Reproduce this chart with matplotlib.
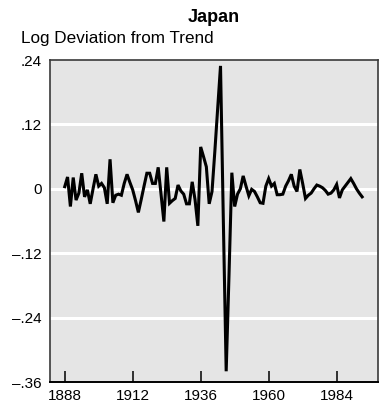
import matplotlib
matplotlib.use("Agg")
import matplotlib.pyplot as plt
import numpy as np

plt.rcParams['font.family'] = ['Liberation Sans', 'DejaVu Sans']

years = list(range(1888, 1994))
deviation = [
    0.004, 0.022, -0.033, 0.021, -0.021, -0.008, 0.029, -0.015, -0.002, -0.028,  # 1888-1897
    0.000, 0.027, 0.005, 0.010, 0.002, -0.028, 0.055, -0.026, -0.012, -0.010,   # 1898-1907
    -0.012, 0.010, 0.027, 0.012, -0.002, -0.022, -0.044, -0.020, 0.005, 0.029,   # 1908-1917
    0.029, 0.010, 0.010, 0.040, -0.010, -0.061, 0.040, -0.027, -0.022, -0.018,   # 1918-1927
    0.007, -0.004, -0.010, -0.028, -0.028, 0.013, -0.020, -0.069, 0.078, 0.060,  # 1928-1937
    0.041, -0.028, -0.005, 0.070, 0.150, 0.229, -0.060, -0.340, -0.160, 0.030,   # 1938-1947
    -0.033, -0.010, 0.000, 0.024, 0.005, -0.013, -0.001, -0.005, -0.015, -0.026, # 1948-1957
    -0.027, 0.005, 0.019, 0.005, 0.010, -0.011, -0.011, -0.010, 0.005, 0.015,    # 1958-1967
    0.027, 0.005, -0.005, 0.036, 0.010, -0.018, -0.012, -0.008, 0.000, 0.007,    # 1968-1977
    0.005, 0.002, -0.003, -0.010, -0.008, -0.002, 0.008, -0.017, -0.002, 0.005,  # 1978-1987
    0.012, 0.019, 0.010, 0.000, -0.008, -0.015,                                  # 1988-1993
]

yticks = [0.24, 0.12, 0.0, -0.12, -0.24, -0.36]
ytick_labels = ['.24', '.12', '0', '\u2013.12', '\u2013.24', '\u2013.36']
xticks = [1888, 1912, 1936, 1960, 1984]

fig = plt.figure(figsize=(3.82, 4.11), dpi=100)
ax = fig.add_axes([50/382, 29/411, 328/382, 322/411])
ax.set_facecolor('#e5e5e5')

for yv in yticks[1:-1]:
    ax.axhline(yv, color='white', lw=2.2, zorder=1)

ax.plot(years, deviation, color='black', lw=2.2, zorder=3, solid_joinstyle='miter')

ax.set_xlim(1882.8, 1998.6)
ax.set_ylim(-0.36, 0.24)
ax.set_xticks(xticks)
ax.set_xticklabels([str(x) for x in xticks])
ax.set_yticks(yticks)
ax.set_yticklabels(ytick_labels)

ax.tick_params(axis='x', direction='in', length=8, width=1.1, color='black',
               labelsize=11, pad=5)
ax.tick_params(axis='y', length=0, labelsize=11, pad=6)

for side in ['top', 'right', 'left']:
    ax.spines[side].set_color('#3a3a3a')
    ax.spines[side].set_linewidth(1.2)
ax.spines['bottom'].set_color('black')
ax.spines['bottom'].set_linewidth(1.4)

fig.text(214/382, 1 - 17/411, 'Japan', ha='center', va='center',
         fontsize=13, fontweight='bold')
fig.text(21/382, 1 - 38/411, 'Log Deviation from Trend', ha='left', va='center',
         fontsize=12.3)

fig.savefig('out.png', dpi=100)
